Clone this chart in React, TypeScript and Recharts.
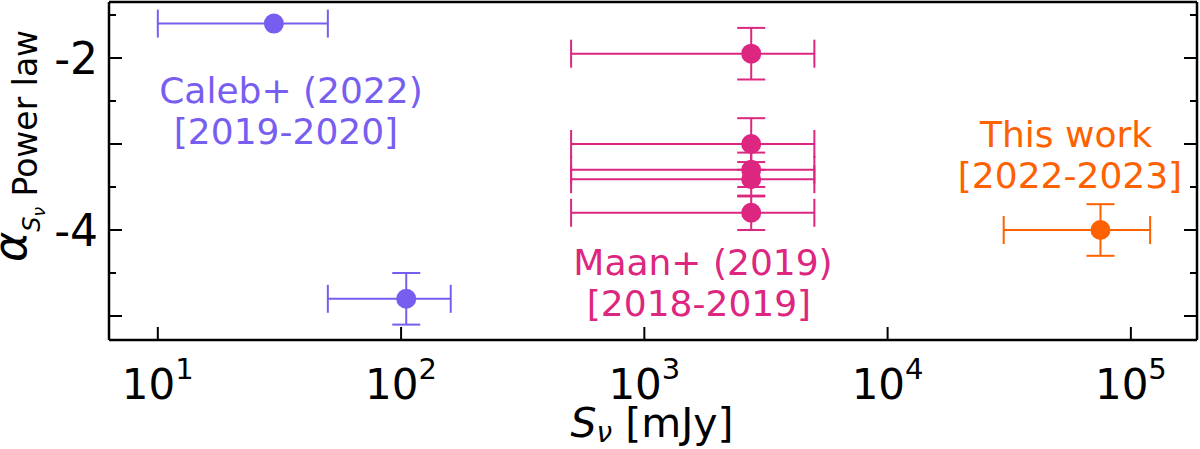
import { ScatterChart, Scatter, XAxis, YAxis, ErrorBar } from 'recharts';

const W = 1200;
const H = 449;
const FONT = '"DejaVu Sans", sans-serif';

// Caleb+ (2022) [2019-2020]
const calebX = [30, 105];
const calebY = [-1.6, -4.8];
const calebXLo = [10, 50];
const calebXHi = [50, 160];
const calebYErr = [null, 0.3];

// Maan+ (2019) [2018-2019]
const maanX = [2750, 2750, 2750, 2750, 2750];
const maanY = [-1.95, -3.0, -3.3, -3.41, -3.8];
const maanXLo = [500, 500, 500, 500, 500];
const maanXHi = [5000, 5000, 5000, 5000, 5000];
const maanYErr = [0.3, 0.3, 0.2, 0.2, 0.2];

// This work [2022-2023]
const thisX = [75000];
const thisY = [-4.0];
const thisXLo = [30000];
const thisXHi = [120000];
const thisYErr = [0.3];

const COLORS = { caleb: '#785EF0', maan: '#DC267F', thisWork: '#FE6100' };

const xDomain = [6.3, 187000];
const yDomain = [-5.279, -1.349];
const xMajor = [10, 100, 1000, 10000, 100000];
const xMinor = [1, 10, 100, 1000, 10000, 100000]
  .flatMap(d => [2, 3, 4, 5, 6, 7, 8, 9].map(m => m * d))
  .filter(v => v > xDomain[0] && v < xDomain[1]);
const yMajor = [-5, -4, -3, -2];
const yMinor = [-4.5, -3.5, -2.5, -1.5];
const yLabelled = [-4, -2];

function build(x: number[], y: number[], lo: number[], hi: number[], ey: (number | null)[]) {
  return x.map((v, i) => ({ x: v, y: y[i], ex: [v - lo[i], hi[i] - v], ey: ey[i] }));
}

const calebData = build(calebX, calebY, calebXLo, calebXHi, calebYErr);
const maanData = build(maanX, maanY, maanXLo, maanXHi, maanYErr);
const thisData = build(thisX, thisY, thisXLo, thisXHi, thisYErr);

const none = () => <g />;

function XTick({ x, payload }: { x: number; payload: { value: number } }) {
  const exp = Math.round(Math.log10(payload.value));
  return (
    <text x={x} y={399} textAnchor="middle" fontFamily={FONT} fontSize={42} fill="#000">
      <tspan>10</tspan>
      <tspan fontSize={29} dy={-20}>{exp}</tspan>
    </text>
  );
}

function YTick({ y, payload }: { y: number; payload: { value: number } }) {
  if (!yLabelled.includes(payload.value)) return <g />;
  return (
    <text x={98} y={y + 16} textAnchor="end" fontFamily={FONT} fontSize={44} fill="#000">
      {String(payload.value)}
    </text>
  );
}

const dot = (color: string) => (p: { cx?: number; cy?: number }) =>
  <circle cx={p.cx} cy={p.cy} r={10} fill={color} />;

const axisLine = { stroke: '#000', strokeWidth: 2.5 };
const tickLine = { stroke: '#000', strokeWidth: 2 };

export default function App() {
  const groups = [
    { data: calebData, color: COLORS.caleb },
    { data: maanData, color: COLORS.maan },
    { data: thisData, color: COLORS.thisWork },
  ];
  // each axis below is 1px thick; margins take that into account so the frame sits at x 109..1197, y 2..340
  return (
    <div style={{ position: 'absolute', left: 0, top: 0, width: W, height: H, background: '#fff' }}>
      <ScatterChart width={W} height={H} margin={{ top: 0, right: 1, bottom: 107, left: 107 }}>
        <XAxis xAxisId="main" dataKey="x" type="number" scale="log" domain={xDomain} allowDataOverflow
          ticks={xMajor} interval={0} height={1} tickSize={-13} tick={XTick}
          axisLine={axisLine} tickLine={tickLine} />
        <XAxis xAxisId="minor" type="number" scale="log" domain={xDomain} allowDataOverflow
          ticks={xMinor} interval={0} height={1} tickSize={-8} tick={none}
          axisLine={false} tickLine={tickLine} />
        <XAxis xAxisId="top" orientation="top" type="number" scale="log" domain={xDomain} allowDataOverflow
          ticks={xMajor} interval={0} height={1} tickSize={-13} tick={none}
          axisLine={axisLine} tickLine={tickLine} />
        <XAxis xAxisId="topMinor" orientation="top" type="number" scale="log" domain={xDomain} allowDataOverflow
          ticks={xMinor} interval={0} height={1} tickSize={-8} tick={none}
          axisLine={false} tickLine={tickLine} />
        <YAxis yAxisId="main" dataKey="y" type="number" domain={yDomain} allowDataOverflow
          ticks={yMajor} interval={0} width={1} tickSize={-13} tick={YTick}
          axisLine={axisLine} tickLine={tickLine} />
        <YAxis yAxisId="minor" type="number" domain={yDomain} allowDataOverflow
          ticks={yMinor} interval={0} width={1} tickSize={-8} tick={none}
          axisLine={false} tickLine={tickLine} />
        <YAxis yAxisId="right" orientation="right" type="number" domain={yDomain} allowDataOverflow
          ticks={yMajor} interval={0} width={1} tickSize={-13} tick={none}
          axisLine={axisLine} tickLine={tickLine} />
        <YAxis yAxisId="rightMinor" orientation="right" type="number" domain={yDomain} allowDataOverflow
          ticks={yMinor} interval={0} width={1} tickSize={-8} tick={none}
          axisLine={false} tickLine={tickLine} />
        {groups.map((g, i) => (
          <Scatter key={i} data={g.data} xAxisId="main" yAxisId="main" fill={g.color}
            shape={dot(g.color)} isAnimationActive={false}>
            <ErrorBar dataKey="ex" direction="x" width={14} stroke={g.color} strokeWidth={2} isAnimationActive={false} />
            <ErrorBar dataKey="ey" direction="y" width={14} stroke={g.color} strokeWidth={2} isAnimationActive={false} />
          </Scatter>
        ))}
      </ScatterChart>
      <svg width={W} height={H} style={{ position: 'absolute', left: 0, top: 0, pointerEvents: 'none' }}
        fontFamily={FONT}>
        <text x={291} y={103} textAnchor="middle" fontSize={36} fill={COLORS.caleb}>Caleb+ (2022)</text>
        <text x={286} y={144} textAnchor="middle" fontSize={36} fill={COLORS.caleb}>[2019-2020]</text>
        <text x={703} y={275} textAnchor="middle" fontSize={36} fill={COLORS.maan}>Maan+ (2019)</text>
        <text x={699} y={316} textAnchor="middle" fontSize={36} fill={COLORS.maan}>[2018-2019]</text>
        <text x={1066} y={147} textAnchor="middle" fontSize={36} fill={COLORS.thisWork}>This work</text>
        <text x={1070} y={188} textAnchor="middle" fontSize={36} fill={COLORS.thisWork}>[2022-2023]</text>
        <text x={652} y={437} textAnchor="middle" fontSize={41} fill="#000">
          <tspan fontStyle="italic">S</tspan>
          <tspan fontSize={28} fontStyle="italic" dy={5}>ν</tspan>
          <tspan dy={-5}>{' [mJy]'}</tspan>
        </text>
        <text transform="translate(26,146) rotate(-90)" textAnchor="middle" fill="#000">
          <tspan fontSize={46} fontStyle="italic">α</tspan>
          <tspan fontSize={24} fontStyle="italic" dy={14}>S</tspan>
          <tspan fontSize={17} fontStyle="italic" dy={5}>ν</tspan>
          <tspan fontSize={33} dy={-8}>{' Power law'}</tspan>
        </text>
      </svg>
    </div>
  );
}
